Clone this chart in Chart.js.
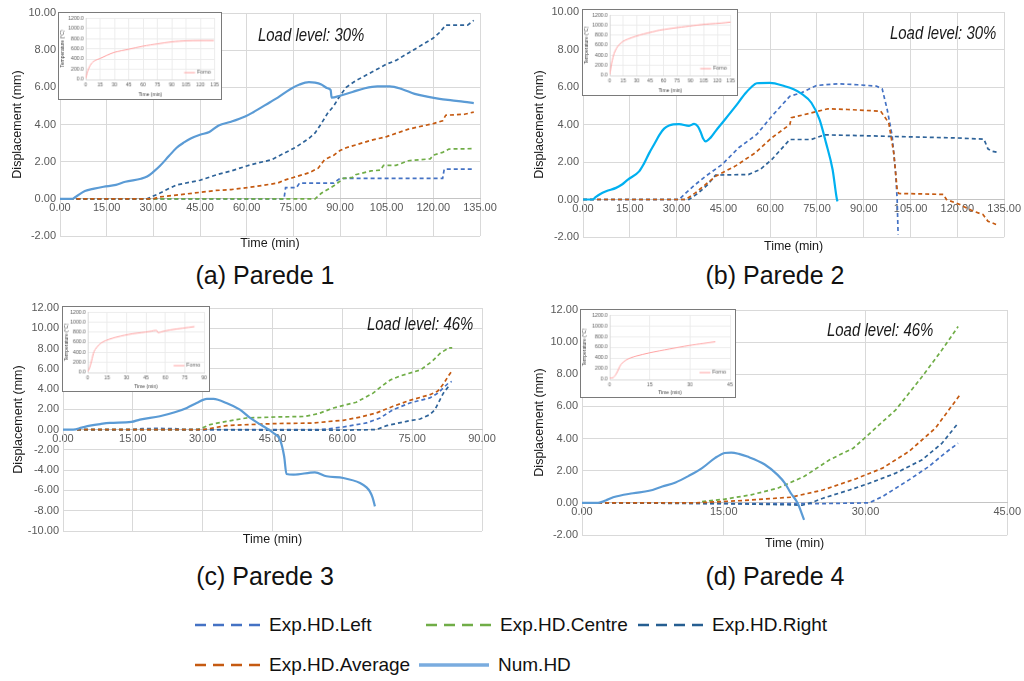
<!DOCTYPE html>
<html>
<head>
<meta charset="utf-8">
<script src="https://cdn.jsdelivr.net/npm/chart.js@4.4.0/dist/chart.umd.min.js"></script>
<style>
  html, body { margin: 0; padding: 0; background: #fff; }
  body { position: relative; width: 1024px; height: 681px; overflow: hidden; font-family: 'Liberation Sans', Arial, sans-serif; }
  canvas { position: absolute; }
  .inset { border: 1px solid #7a7a7a; background: #fff; }
  .load { position: absolute; font-style: italic; font-size: 18px; line-height: 18px; color: #1a1a1a; white-space: nowrap; transform: scaleX(0.83); transform-origin: left center; }
  .cap { position: absolute; font-size: 25px; line-height: 28px; color: #111; white-space: nowrap; transform: translateX(-50%); }
  .lg { position: absolute; display: flex; align-items: center; height: 24px; font-size: 19px; color: #111; white-space: nowrap; }
  .lg svg { margin-right: 9px; }
</style>
</head>
<body>
<canvas id="ca" width="505" height="256" style="left:0;top:0"></canvas>
<canvas id="cb" width="514" height="256" style="left:510px;top:0"></canvas>
<canvas id="cc" width="505" height="260" style="left:0;top:290px"></canvas>
<canvas id="cd" width="514" height="262" style="left:510px;top:290px"></canvas>
<canvas id="ia" class="inset" width="164" height="88" style="left:58px;top:12px"></canvas>
<canvas id="ib" class="inset" width="156" height="87" style="left:582px;top:9px"></canvas>
<canvas id="ic" class="inset" width="148" height="86" style="left:62px;top:306px"></canvas>
<canvas id="id" class="inset" width="156" height="89" style="left:580px;top:309px"></canvas>
<div id="texts"></div>
<script>
// series names and colours
const seriesNames = ['Exp.HD.Left', 'Exp.HD.Centre', 'Exp.HD.Right', 'Exp.HD.Average', 'Num.HD'];
const seriesColors = ['#4472C4', '#70AD47', '#2E6399', '#C55A11', '#5B9BD5'];
const captions = ['(a) Parede 1', '(b) Parede 2', '(c) Parede 3', '(d) Parede 4'];
const loadLevels = ['Load level: 30%', 'Load level: 30%', 'Load level: 46%', 'Load level: 46%'];

// Parede 1 - [time (min), displacement (mm)]
const aLeft = [[3,0],[72,0],[72.5,0.6],[76,0.6],[77,0.85],[88,0.85],[90,1.1],[123,1.1],[123.5,1.6],[133,1.6]];
const aCentre = [[3,0],[82,0],[84,0.3],[88,0.7],[90,0.95],[91,1.1],[94,1.15],[95,1.3],[100,1.5],[103,1.55],[104,1.8],[108,1.8],[112,2.05],[119,2.15],[120,2.35],[123,2.5],[125,2.68],[133,2.7]];
const aRight = [[3,0],[28,0],[30,0.15],[32,0.3],[35,0.55],[37.5,0.75],[45,1.0],[51,1.33],[55,1.5],[60,1.77],[64,1.95],[68,2.1],[72,2.45],[76,2.8],[80,3.25],[82,3.55],[84,4.05],[86,4.6],[88,5.0],[90,5.55],[92,6.0],[95,6.35],[100,6.8],[105,7.25],[108,7.45],[112,7.85],[116,8.25],[120,8.65],[122,8.95],[124,9.35],[131,9.35],[133,9.6]];
const aAverage = [[3,0],[30,0],[32,0.1],[40,0.25],[45,0.35],[50,0.45],[55,0.5],[60,0.6],[65,0.72],[70,0.85],[72,1.0],[75,1.15],[80,1.4],[83,1.65],[85,2.1],[88,2.35],[90,2.6],[92,2.75],[95,2.9],[100,3.15],[105,3.35],[112,3.75],[120,4.05],[123,4.2],[124,4.5],[130,4.55],[133,4.67]];
const aNum = [[0,0],[4,0],[5,0.1],[8,0.42],[11,0.55],[14,0.65],[18,0.75],[21,0.92],[26,1.08],[28,1.2],[30,1.45],[32,1.75],[35,2.3],[37.5,2.75],[40,3.05],[42,3.25],[45,3.45],[48,3.6],[51,3.95],[55,4.15],[59.5,4.43],[62,4.65],[67.5,5.2],[70,5.45],[74,5.9],[77,6.15],[80,6.28],[82,6.25],[84,6.15],[86,5.95],[87,5.85],[87.3,5.45],[90,5.55],[94,5.75],[98,5.95],[102,6.05],[106,6.05],[110,5.9],[114,5.65],[118,5.5],[122,5.38],[126,5.3],[130,5.22],[133,5.15]];

// Parede 2
const bLeft = [[0,0],[30.8,0],[33,0.35],[36,0.8],[39.3,1.24],[44.6,1.87],[49.9,2.76],[55.7,3.47],[60.5,4.44],[66.3,5.51],[70,5.69],[74.8,6.08],[81.6,6.17],[88,6.12],[94,6.05],[95.9,5.9],[97.5,4.8],[99.1,3.4],[100.2,1.42],[100.7,0],[101,-1.87]];
const bRight = [[0,0],[34,0],[37,0.35],[40,0.8],[42.5,1.3],[48,1.32],[53,1.33],[56.8,1.6],[60.5,2.13],[66.3,3.2],[73.2,3.2],[77.4,3.45],[88,3.41],[100,3.36],[110,3.32],[120,3.28],[128.5,3.22],[129.8,2.7],[131,2.58],[133.5,2.49]];
const bAverage = [[0,0],[32.9,0],[36,0.35],[39.3,0.8],[42.5,1.24],[48.8,1.78],[55.2,2.49],[60.5,3.29],[66.3,4.0],[66.8,4.36],[73.2,4.62],[78.5,4.84],[84.8,4.8],[95.4,4.71],[98,4.09],[99.6,2.49],[100.7,0.53],[101.2,0.32],[108,0.3],[115.5,0.27],[116.5,0],[120.8,-0.27],[125,-0.62],[128.2,-0.8],[129.8,-1.16],[132.4,-1.33]];
const bNum = [[0,0],[3,0],[4,0.12],[5.3,0.27],[7.4,0.44],[10.6,0.62],[12.5,0.8],[14.3,1.05],[18,1.5],[19.5,1.9],[21.3,2.5],[23,3.0],[24.5,3.45],[26,3.78],[27.6,3.95],[30.8,4.02],[34,3.93],[35.6,4.03],[36.8,3.9],[37.7,3.6],[38.5,3.25],[39.3,3.1],[40.9,3.3],[42.5,3.65],[44.6,4.08],[48.8,4.95],[52,5.65],[54,6.0],[55.7,6.2],[59.9,6.22],[64.7,6.04],[67.5,5.88],[70,5.65],[73.2,5.16],[75.8,4.27],[77.9,3.02],[80,1.6],[81.4,0],[81.6,-0.1]];

// Parede 3
const cLeft = [[3,0],[15,0],[17,0.1],[20,0.12],[24,0.1],[26,0],[55,0],[56.6,0.05],[60.2,0.26],[65.2,0.66],[68.1,1.15],[70.9,1.97],[74.5,2.63],[78.8,3.13],[80.5,3.6],[82.8,4.6],[83.5,4.75]];
const cCentre = [[3,0],[29,0],[31.6,0.5],[35.1,0.82],[39.4,1.15],[45.9,1.25],[52,1.3],[55,1.6],[58.1,2.14],[60.9,2.47],[63,2.7],[66.6,3.6],[68.5,4.3],[70.3,4.9],[72.5,5.3],[76.8,5.9],[79.3,6.74],[81.1,7.57],[82.9,8.06],[83.6,8.06]];
const cRight = [[3,0],[30,0],[45,-0.05],[60,-0.05],[67.3,0],[69.5,0.39],[73.8,0.82],[76.7,1.05],[78.8,1.48],[79.9,1.97],[81.7,3.6],[83.1,4.44]];
const cAverage = [[3,0],[30,0],[31,0.07],[35.1,0.4],[40,0.5],[45.9,0.6],[53.8,0.65],[57,0.8],[60.2,0.92],[64,1.25],[67.3,1.64],[70.9,2.3],[74.5,2.89],[78.8,3.45],[80.5,3.8],[81.7,4.5],[82.8,5.3],[83.6,5.82]];
const cNum = [[0,0],[2.2,0],[4,0.2],[5.8,0.39],[8,0.55],[10.1,0.66],[14.7,0.76],[16.5,0.99],[20.8,1.32],[24,1.71],[26.6,2.14],[28.7,2.63],[30.9,3.04],[32.3,3.03],[35.1,2.63],[38,1.97],[40.2,1.15],[43,0.33],[45.2,-0.33],[46.6,-0.99],[47.5,-2.63],[48,-4.37],[49.5,-4.44],[54.1,-4.21],[56.6,-4.6],[60.2,-4.77],[63.8,-5.26],[65.2,-5.7],[65.9,-6.09],[66.5,-6.7],[67,-7.57]];

// Parede 4
const dLeft = [[1.7,0],[20,-0.05],[25,-0.05],[30.4,0],[31.8,0.39],[33.2,0.91],[34.6,1.43],[36.7,2.26],[38.4,3.09],[39.8,3.71]];
const dCentre = [[12.7,0.08],[15.1,0.23],[17.9,0.5],[20.7,0.91],[23.5,1.64],[26.2,2.68],[28.7,3.4],[30.1,4.13],[33.2,5.79],[36,7.86],[38.1,9.52],[39.8,10.97]];
const dRight = [[1.7,0],[15,-0.05],[22,-0.12],[23.3,-0.15],[24.2,0],[25.5,0.29],[28.3,0.8],[30.4,1.22],[33.2,1.85],[36,2.68],[38.1,3.71],[39.8,4.96]];
const dAverage = [[1.7,0],[12,0],[17.2,0.15],[22.1,0.35],[25.5,0.8],[29,1.5],[31.8,2.16],[34.6,3.2],[37.4,4.65],[40,6.72]];
const dNum = [[0,0],[1.7,0],[2.5,0.15],[3.3,0.35],[5.4,0.6],[7.1,0.75],[8.5,1.02],[9.9,1.27],[11.3,1.68],[12.7,2.16],[14.1,2.8],[15.1,3.1],[15.8,3.13],[16.6,3.05],[17.5,2.88],[19.3,2.4],[20.7,1.74],[21.5,1.2],[22.1,0.6],[22.8,0],[23.5,-1.06]];

// furnace temperature insets - [time (min), temperature (C)]
const aForno = [[0,20],[1,90],[2,160],[4,250],[6,310],[8,350],[12,390],[15,410],[22,470],[30,530],[45,590],[60,650],[75,695],[90,735],[105,755],[120,760],[134,760]];
const bForno = [[0,20],[1,120],[2,230],[3.7,360],[5,440],[7.3,530],[10,600],[14.7,675],[20,720],[29.3,780],[38,825],[47.6,865],[56,900],[66,927],[75,950],[84.3,970],[93,990],[102.6,1010],[112,1025],[124.5,1040],[135,1060]];
const cForno = [[0,20],[1.25,75],[3,230],[5,420],[8.75,550],[12,610],[16.25,655],[22,700],[28.75,740],[35,770],[41.25,790],[48,815],[53.25,835],[54.25,790],[58,815],[63.75,845],[73.75,880],[82.5,910]];
const dForno = [[0,30],[1.2,30],[2.5,107],[3.3,190],[4.3,285],[6.2,363],[8,405],[9.9,435],[14.8,494],[22.2,565],[29.6,631],[35,670],[39.5,702]];

const FONT = "'Liberation Sans Narrow', 'Arial Narrow', 'Liberation Sans', Arial, sans-serif";
Chart.defaults.font.family = FONT;
Chart.defaults.color = '#595959';

const pts = (arr) => arr.map((p) => ({ x: p[0], y: p[1] }));

// one main displacement chart
function drawPanel(id, series, numColor, xMax, yMin, yMax, box) {
  const datasets = [];
  series.forEach((data, i) => {
    if (!data) return;
    const isNum = i === 4;
    datasets.push({
      label: seriesNames[i],
      data: pts(data),
      showLine: true,
      borderColor: isNum ? numColor : seriesColors[i],
      borderWidth: isNum ? 2.2 : 1.7,
      borderDash: isNum ? [] : [4, 3],
      pointRadius: 0,
      cubicInterpolationMode: isNum ? 'monotone' : 'default',
      tension: isNum ? 0.4 : 0,
      fill: false,
    });
  });
  // experimental curves drawn over the numerical one
  datasets.reverse();

  new Chart(document.getElementById(id), {
    type: 'scatter',
    data: { datasets },
    options: {
      responsive: false,
      animation: false,
      devicePixelRatio: 1,
      layout: { padding: { left: 0, top: box.top, right: box.right, bottom: 0 } },
      plugins: { legend: { display: false }, tooltip: { enabled: false } },
      scales: {
        x: {
          type: 'linear',
          position: { y: 0 },
          min: 0,
          max: xMax,
          ticks: { stepSize: 15, autoSkip: false, maxRotation: 0, padding: 3, font: { size: 11 }, callback: (v) => v.toFixed(2) },
          grid: { color: '#d9d9d9', drawTicks: false },
          border: { color: '#c4c4c4' },
        },
        x2: {
          type: 'linear',
          axis: 'x',
          position: 'bottom',
          min: 0,
          max: 1,
          ticks: { display: false },
          grid: { display: false },
          border: { display: false },
          title: { display: true, text: 'Time (min)', color: '#1a1a1a', font: { size: 12.5 }, padding: { top: 0, bottom: box.xtPad } },
          afterFit: (s) => { s.height = box.bottom; },
        },
        y: {
          min: yMin,
          max: yMax,
          ticks: { stepSize: 2, padding: 4, font: { size: 11 }, callback: (v) => v.toFixed(2) },
          grid: { color: '#d9d9d9', drawTicks: false },
          border: { color: '#d9d9d9' },
          title: { display: true, text: 'Displacement (mm)', color: '#1a1a1a', font: { size: 12.5 }, padding: { top: box.ytPad, bottom: 0 } },
          afterFit: (s) => { s.width = box.left; },
        },
      },
    },
  });
}

// small legend entry drawn inside the inset plot area
const fornoLegend = {
  id: 'fornoLegend',
  afterDraw(chart) {
    const { ctx, chartArea: a } = chart;
    const y = a.bottom - 7;
    ctx.save();
    ctx.strokeStyle = chart.data.datasets[0].borderColor;
    ctx.lineWidth = 1;
    ctx.beginPath();
    ctx.moveTo(a.right - 31, y);
    ctx.lineTo(a.right - 20, y);
    ctx.stroke();
    ctx.fillStyle = '#595959';
    ctx.font = '5.4px ' + FONT;
    ctx.textBaseline = 'middle';
    ctx.fillText(chart.data.datasets[0].label, a.right - 18, y);
    ctx.restore();
  },
};

function drawInset(id, data, xMax, box) {
  new Chart(document.getElementById(id), {
    type: 'scatter',
    data: { datasets: [{ label: 'Forno', data: pts(data), showLine: true, borderColor: '#FF9E9E', borderWidth: 1, pointRadius: 0, tension: 0.3 }] },
    options: {
      responsive: false,
      animation: false,
      devicePixelRatio: 1,
      layout: { padding: { left: 0, top: 4, right: box.right, bottom: 0 } },
      plugins: { legend: { display: false }, tooltip: { enabled: false } },
      scales: {
        x: {
          min: 0,
          max: xMax,
          ticks: { stepSize: 15, autoSkip: false, maxRotation: 0, padding: 2, font: { size: 5.2 } },
          grid: { color: '#ececec', drawTicks: false },
          border: { color: '#d9d9d9' },
          title: { display: true, text: 'Time (min)', color: '#404040', font: { size: 5 }, padding: { top: 0, bottom: 1 } },
          afterFit: (s) => { s.height = box.bottom; },
        },
        y: {
          min: 0,
          max: 1200,
          ticks: { stepSize: 200, padding: 2, font: { size: 5.2 }, callback: (v) => v.toFixed(1) },
          grid: { color: '#ececec', drawTicks: false },
          border: { color: '#d9d9d9' },
          title: { display: true, text: 'Temperature (°C)', color: '#404040', font: { size: 5 }, padding: { top: 0.5, bottom: 0 } },
          afterFit: (s) => { s.width = box.left; },
        },
      },
    },
    plugins: [fornoLegend],
  });
}

drawPanel('ca', [aLeft, aCentre, aRight, aAverage, aNum], '#5B9BD5', 135, -2, 10, { left: 60, top: 13, right: 25, bottom: 20, ytPad: 9.7, xtPad: 4.5 });
drawPanel('cb', [bLeft, null, bRight, bAverage, bNum], '#00B0F0', 135, -2, 10, { left: 73, top: 12, right: 16, bottom: 19, ytPad: 21.7, xtPad: 1.7 });
drawPanel('cc', [cLeft, cCentre, cRight, cAverage, cNum], '#5B9BD5', 90, -10, 12, { left: 63, top: 18, right: 23, bottom: 19, ytPad: 10.7, xtPad: 3 });
drawPanel('cd', [dLeft, dCentre, dRight, dAverage, dNum], '#5B9BD5', 45, -2, 12, { left: 72, top: 20, right: 11, bottom: 17, ytPad: 21.7, xtPad: 0.7 });

drawInset('ia', aForno, 135, { left: 27, right: 6, bottom: 20 });
drawInset('ib', bForno, 135, { left: 27, right: 6, bottom: 20 });
drawInset('ic', cForno, 90, { left: 25, right: 3, bottom: 19 });
drawInset('id', dForno, 45, { left: 29, right: 5, bottom: 18 });

// captions, load level notes and the shared legend
const texts = document.getElementById('texts');
const capPos = [[265, 261], [775, 261], [265, 562], [775, 562]];
const loadPos = [[258, 26], [890, 24], [367, 315], [827, 321]];
captions.forEach((c, i) => {
  const d = document.createElement('div');
  d.className = 'cap';
  d.style.left = capPos[i][0] + 'px';
  d.style.top = capPos[i][1] + 'px';
  d.textContent = c;
  texts.appendChild(d);
  const l = document.createElement('div');
  l.className = 'load';
  l.style.left = loadPos[i][0] + 'px';
  l.style.top = loadPos[i][1] + 'px';
  l.textContent = loadLevels[i];
  texts.appendChild(l);
});

const legendPos = [[195, 613], [426, 613], [638, 613], [195, 653], [419, 653]];
const legendColors = ['#4472C4', '#70AD47', '#255E91', '#C55A11', '#7AACDF'];
seriesNames.forEach((name, s) => {
  const item = document.createElement('div');
  item.className = 'lg';
  item.style.left = legendPos[s][0] + 'px';
  item.style.top = legendPos[s][1] + 'px';
  const solid = s === 4;
  const w = solid ? 70 : 65;
  item.innerHTML = '<svg width="' + w + '" height="6"><line x1="0" y1="3" x2="' + w + '" y2="3" stroke="' + legendColors[s] +
    '" stroke-width="' + (solid ? 3.5 : 2.6) + '"' + (solid ? '' : ' stroke-dasharray="11 7"') + '/></svg><span>' + name + '</span>';
  texts.appendChild(item);
});
</script>
</body>
</html>
